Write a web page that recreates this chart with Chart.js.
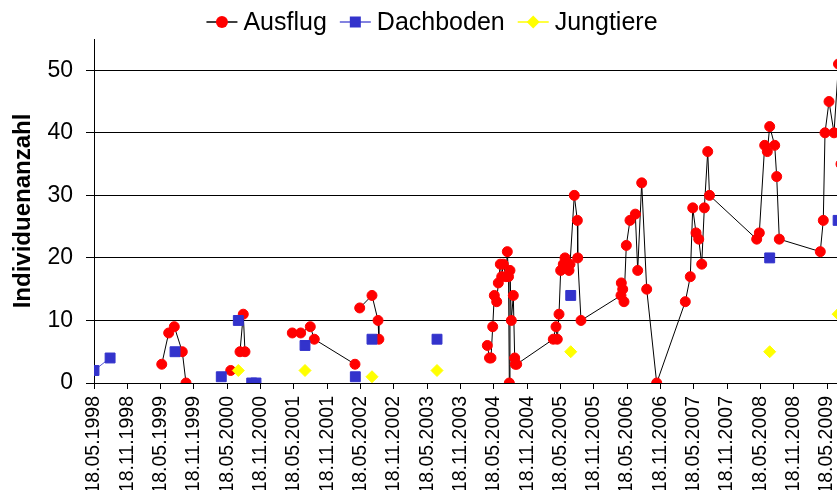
<!DOCTYPE html>
<html>
<head>
<meta charset="utf-8">
<script src="https://cdn.jsdelivr.net/npm/chart.js"></script>
<style>
  body { margin: 0; background: #fff; }
</style>
</head>
<body>
<canvas id="chart" width="837" height="490"></canvas>
<script>
// x values are months since 18.05.1998; null = gap in the series
const xTickMonths = [0, 6, 12, 18, 24, 30, 36, 42, 48, 54, 60, 66, 72, 78, 84, 90, 96, 102, 108, 114, 120, 126, 132];
const xTickLabels = ["18.05.1998", "18.11.1998", "18.05.1999", "18.11.1999", "18.05.2000", "18.11.2000",
  "18.05.2001", "18.11.2001", "18.05.2002", "18.11.2002", "18.05.2003", "18.11.2003",
  "18.05.2004", "18.11.2004", "18.05.2005", "18.11.2005", "18.05.2006", "18.11.2006",
  "18.05.2007", "18.11.2007", "18.05.2008", "18.11.2008", "18.05.2009"];
const yTicks = [0, 10, 20, 30, 40, 50];

const ausflugMonths = [
  12.2, 13.45, 14.46, 15.9, 16.57, null,
  24.62, null,
  26.29, 26.88, 27.19, null,
  35.71, 37.22, 38.95, 39.67, 47.0, null,
  47.85, 50.06, 51.15, 51.3, null,
  70.83, 71.22, 71.49, 71.8, 72.09, 72.52, 72.81, 73.17, 73.42, 73.71, 74.19, 74.43, 74.65, 74.79, 74.91, 75.15, 75.51, 75.76, 75.87, 76.12,
  82.71, 83.2, 83.43, 83.74, 84.04, 84.51, 84.82, 85.13, 85.54, 85.72, 86.49, 87.04, 87.11, 87.7,
  94.9, 94.96, 95.21, 95.44, 95.86, 96.52, 97.48, 97.91, 98.63, 99.53, 101.33,
  106.48, 107.38, 107.82, 108.41, 108.9, 109.44, 109.91, 110.52, 110.84,
  119.34, 119.81, 120.78, 121.25, 121.68, 122.58, 122.94, 123.41,
  130.79, 131.33, 131.64, 132.36, 133.26, 134.07, 134.52
];
const ausflugValues = [
  3, 8, 9, 5, 0, null,
  2, null,
  5, 11, 5, null,
  8, 8, 9, 7, 3, null,
  12, 14, 10, 7, null,
  6, 4, 4, 9, 14, 13, 16, 19, 17, 19, 17, 21, 17, 0, 18, 10, 14, 4, 3, 3,
  7, 9, 7, 11, 18, 19, 20, 19, 18, 19, 30, 26, 20, 10,
  14, 16, 15, 13, 22, 26, 27, 18, 32, 15, 0,
  13, 17, 28, 24, 23, 19, 28, 37, 30,
  23, 24, 38, 37, 41, 38, 33, 23,
  21, 26, 40, 45, 40, 51, 35
];

const dachbodenMonths = [0, 2.9, null, 14.59, null, 22.92, null, 25.99, null, 28.4, null, 29.17, null,
  38.0, null, 47.06, null, 50.06, null, 61.77, null, 85.85, null, 121.68, null, 134.0];
const dachbodenValues = [2, 4, null, 5, null, 1, null, 10, null, 0, null, 0, null,
  6, null, 1, null, 7, null, 7, null, 14, null, 20, null, 26];

const jungtiereMonths = [25.99, 38.0, 50.06, 61.77, 85.85, 121.68, 134.0];
const jungtiereValues = [2, 2, 1, 2, 5, 5, 11];

const toPoints = (xs, ys) => xs.map((x, i) => ({ x: x, y: ys[i] }));

Chart.defaults.font.family = "'Liberation Sans', Arial, sans-serif";
Chart.defaults.color = "#000";

// legend drawn as "line + marker" like the original spreadsheet chart
const lineLegend = {
  id: "lineLegend",
  afterDraw(chart, args, opts) {
    const ctx = chart.ctx;
    const sets = chart.data.datasets;
    ctx.save();
    ctx.font = "25px 'Liberation Sans', Arial, sans-serif";
    const lineLen = 31, gapText = 6, gapItem = 13;
    const widths = sets.map(ds => lineLen + gapText + ctx.measureText(ds.label).width);
    const total = widths.reduce((a, b) => a + b, 0) + gapItem * (sets.length - 1);
    let x = opts.centerX - total / 2;
    const y = opts.y;
    sets.forEach((ds, i) => {
      ctx.strokeStyle = ds.legendLine;
      ctx.lineWidth = 1.5;
      ctx.beginPath();
      ctx.moveTo(x, y);
      ctx.lineTo(x + lineLen, y);
      ctx.stroke();
      const cx = x + lineLen / 2;
      ctx.fillStyle = ds.pointBackgroundColor;
      ctx.beginPath();
      if (ds.pointStyle === "rect") {
        ctx.rect(cx - 5.5, y - 5.5, 11, 11);
      } else if (ds.pointStyle === "rectRot") {
        ctx.moveTo(cx - 6.5, y); ctx.lineTo(cx, y - 6.5); ctx.lineTo(cx + 6.5, y); ctx.lineTo(cx, y + 6.5);
        ctx.closePath();
      } else {
        ctx.arc(cx, y, 6, 0, Math.PI * 2);
      }
      ctx.fill();
      ctx.fillStyle = "#000";
      ctx.textBaseline = "middle";
      ctx.textAlign = "left";
      ctx.fillText(ds.label, x + lineLen + gapText, y + 1);
      x += widths[i] + gapItem;
    });
    ctx.restore();
  }
};

new Chart(document.getElementById("chart"), {
  type: "scatter",
  data: {
    datasets: [
      {
        label: "Ausflug",
        data: toPoints(ausflugMonths, ausflugValues),
        showLine: true,
        borderColor: "#000",
        borderWidth: 1,
        legendLine: "#000",
        pointStyle: "circle",
        pointRadius: 5,
        pointBorderWidth: 1,
        pointBackgroundColor: "#ff0000",
        pointBorderColor: "#ff0000",
        order: 3
      },
      {
        label: "Dachboden",
        data: toPoints(dachbodenMonths, dachbodenValues),
        showLine: true,
        borderColor: "#5a5ad6",
        borderWidth: 1,
        legendLine: "#5a5ad6",
        pointStyle: "rect",
        pointRadius: 7,
        pointBorderWidth: 1,
        pointBackgroundColor: "#3333cc",
        pointBorderColor: "#3333cc",
        order: 2
      },
      {
        label: "Jungtiere",
        data: toPoints(jungtiereMonths, jungtiereValues),
        showLine: false,
        borderColor: "#ffff00",
        legendLine: "#ffff00",
        pointStyle: "rectRot",
        pointRadius: 6,
        pointBorderWidth: 1,
        pointBackgroundColor: "#ffff00",
        pointBorderColor: "#ffff00",
        order: 1
      }
    ]
  },
  options: {
    responsive: false,
    animation: false,
    layout: { autoPadding: false, padding: { top: 39, right: 0, bottom: 0, left: 0 } },
    plugins: {
      legend: { display: false },
      tooltip: { enabled: false },
      lineLegend: { centerX: 432, y: 22 }
    },
    scales: {
      x: {
        type: "linear",
        min: 0,
        max: 133.8,
        afterBuildTicks: s => { s.ticks = xTickMonths.map(v => ({ value: v })); },
        afterFit: s => { s.height = 107; s.paddingLeft = 0; s.paddingRight = 0; },
        grid: { drawOnChartArea: false, drawTicks: true, tickLength: 6, color: "#000" },
        border: { color: "#000", width: 1 },
        ticks: {
          autoSkip: false,
          minRotation: 90,
          maxRotation: 90,
          padding: 7,
          font: { size: 19.5 },
          callback: (v, i) => xTickLabels[i]
        }
      },
      y: {
        min: 0,
        max: 55,
        afterBuildTicks: s => { s.ticks = yTicks.map(v => ({ value: v })); },
        afterFit: s => { s.width = 94; s.paddingTop = 0; s.paddingBottom = 0; },
        grid: { color: "#000", tickLength: 8 },
        border: { color: "#000", width: 1 },
        ticks: { padding: 13, font: { size: 23 } },
        title: {
          display: true,
          text: "Individuenanzahl",
          font: { size: 24, weight: "bold" },
          padding: { top: 9, bottom: 0 }
        }
      }
    }
  },
  plugins: [lineLegend]
});
</script>
</body>
</html>
